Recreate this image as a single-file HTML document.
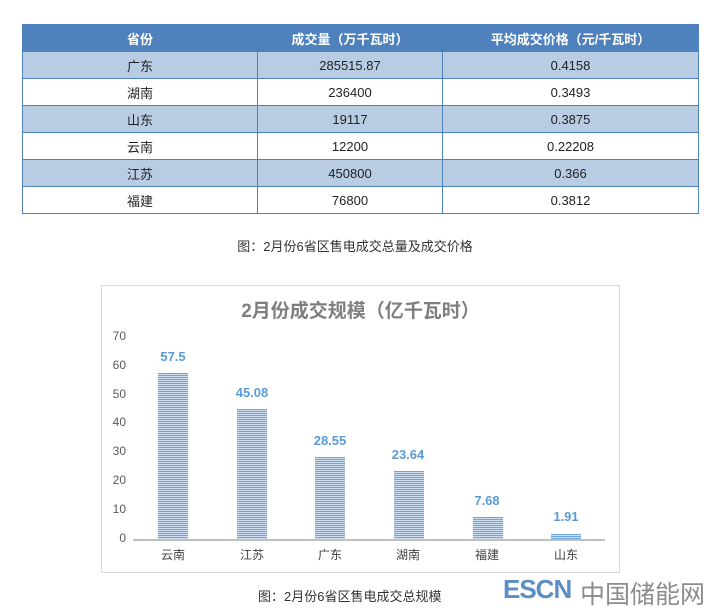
<!DOCTYPE html>
<html><head><meta charset="utf-8"><style>
body{margin:0;width:710px;height:610px;background:#fff;position:relative;overflow:hidden;font-family:"Liberation Sans","Noto Sans CJK SC",sans-serif;}
table{position:absolute;left:22px;top:24px;width:677px;border-collapse:collapse;font-size:13px;color:#222;}
td,th{border:1px solid #4f81bd;text-align:center;height:26px;padding:0;}
th{background:#4f81bd;color:#fff;font-weight:bold;height:26px;border-color:#4f81bd;}
tr.a td{background:#b8cce4;}
.cap{position:absolute;font-size:13px;color:#333;}
.box{position:absolute;left:101px;top:285px;width:517px;height:286px;border:1px solid #d9d9d9;}
.yl{position:absolute;font-size:12px;color:#595959;width:30px;text-align:right;}
.bar{position:absolute;width:30px;background:repeating-linear-gradient(to bottom,#6fa3dc 0 1px,#cfe0f3 1px 2px);}
.dl{position:absolute;width:60px;text-align:center;font-size:13px;font-weight:bold;color:#5b9bd5;}
.xl{position:absolute;width:60px;text-align:center;font-size:12px;color:#404040;}
</style></head><body>
<table>
<tr><th style="width:234px">省份</th><th style="width:184px">成交量（万千瓦时）</th><th>平均成交价格（元/千瓦时）</th></tr>
<tr class="a"><td>广东</td><td>285515.87</td><td>0.4158</td></tr>
<tr><td>湖南</td><td>236400</td><td>0.3493</td></tr>
<tr class="a"><td>山东</td><td>19117</td><td>0.3875</td></tr>
<tr><td>云南</td><td>12200</td><td>0.22208</td></tr>
<tr class="a"><td>江苏</td><td>450800</td><td>0.366</td></tr>
<tr><td>福建</td><td>76800</td><td>0.3812</td></tr>
</table>
<div class="cap" style="left:0;width:710px;text-align:center;top:236px;">图：2月份6省区售电成交总量及成交价格</div>
<div class="box"></div>
<div style="position:absolute;left:101px;width:519px;top:296px;text-align:center;font-size:19px;font-weight:bold;color:#7f7f7f;">2月份成交规模（亿千瓦时）</div>
<div class="yl" style="left:96px;top:329px">70</div>
<div class="yl" style="left:96px;top:358px">60</div>
<div class="yl" style="left:96px;top:387px">50</div>
<div class="yl" style="left:96px;top:415px">40</div>
<div class="yl" style="left:96px;top:444px">30</div>
<div class="yl" style="left:96px;top:473px">20</div>
<div class="yl" style="left:96px;top:502px">10</div>
<div class="yl" style="left:96px;top:531px">0</div>
<div style="position:absolute;left:133px;width:472px;top:539px;height:2px;background:#bfbfbf"></div>
<div class="bar" style="left:158px;top:373px;height:166px"></div>
<div class="bar" style="left:237px;top:409px;height:130px"></div>
<div class="bar" style="left:315px;top:457px;height:82px"></div>
<div class="bar" style="left:394px;top:471px;height:68px"></div>
<div class="bar" style="left:473px;top:517px;height:22px"></div>
<div class="bar" style="left:551px;top:534px;height:5px"></div>
<div class="dl" style="left:143px;top:349px">57.5</div>
<div class="dl" style="left:222px;top:385px">45.08</div>
<div class="dl" style="left:300px;top:433px">28.55</div>
<div class="dl" style="left:378px;top:447px">23.64</div>
<div class="dl" style="left:457px;top:493px">7.68</div>
<div class="dl" style="left:536px;top:509px">1.91</div>
<div class="xl" style="left:143px;top:546px">云南</div>
<div class="xl" style="left:222px;top:546px">江苏</div>
<div class="xl" style="left:300px;top:546px">广东</div>
<div class="xl" style="left:378px;top:546px">湖南</div>
<div class="xl" style="left:457px;top:546px">福建</div>
<div class="xl" style="left:536px;top:546px">山东</div>
<div class="cap" style="left:258px;top:586px;">图：2月份6省区售电成交总规模</div>
<div style="position:absolute;left:503px;top:574px;font-size:26px;font-weight:bold;color:#5b8ec4;letter-spacing:-1px;">ESCN</div>
<div style="position:absolute;left:580px;top:575px;font-size:25px;color:#8c8c8c;">中国储能网</div>
</body></html>
